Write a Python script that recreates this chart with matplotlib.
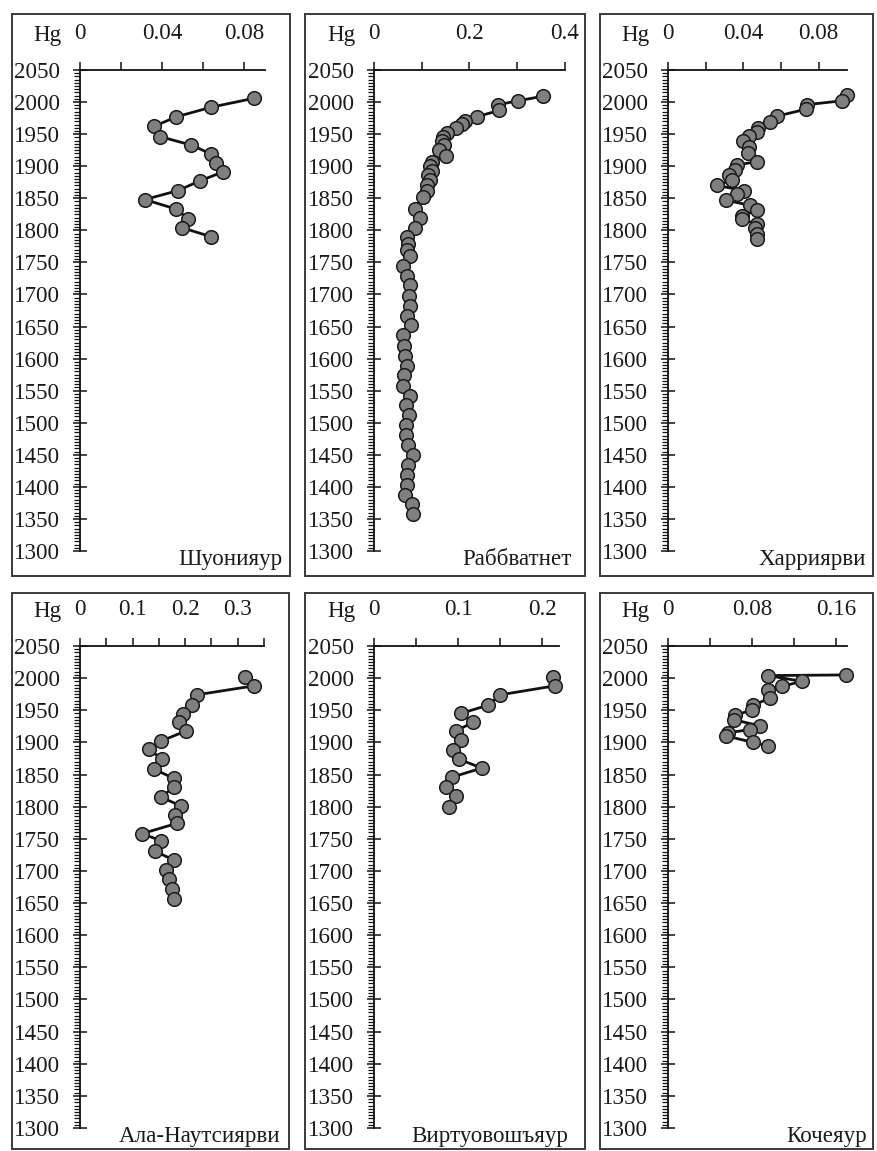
import matplotlib
matplotlib.use('Agg')
import matplotlib.pyplot as plt
from matplotlib.patches import Rectangle
from matplotlib.ticker import MultipleLocator, FuncFormatter

plt.rcParams['font.family'] = ['Liberation Serif', 'DejaVu Serif']

# ---------------------------
# Data (Hg vs year, per lake)
# ---------------------------
lakes = ['Шуонияур', 'Раббватнет', 'Харриярви',
         'Ала-Наутсиярви', 'Виртуовошъяур', 'Кочеяур']

years_shuon = [2006, 1992, 1977, 1962, 1946, 1933, 1919, 1905, 1891, 1877,
               1862, 1848, 1833, 1818, 1804, 1790]
hg_shuon = [0.0848, 0.0638, 0.0469, 0.0359, 0.0391, 0.0541, 0.0638, 0.0663,
            0.0695, 0.0582, 0.0477, 0.0315, 0.0469, 0.0525, 0.0498, 0.0638]

years_rabb = [2009, 2002, 1996, 1987, 1977, 1970, 1966, 1959, 1951, 1946,
              1939, 1933, 1925, 1916, 1907, 1900, 1893, 1886, 1878, 1870,
              1862, 1852, 1834, 1820, 1804, 1790, 1779, 1770, 1760, 1745,
              1729, 1714, 1698, 1682, 1667, 1652, 1637, 1620, 1604, 1589,
              1574, 1558, 1542, 1527, 1512, 1496, 1481, 1465, 1449, 1434,
              1418, 1403, 1387, 1373, 1357]
hg_rabb = [0.353, 0.302, 0.260, 0.262, 0.215, 0.191, 0.184, 0.172, 0.152, 0.145,
           0.142, 0.147, 0.137, 0.151, 0.121, 0.117, 0.121, 0.114, 0.117, 0.112,
           0.110, 0.102, 0.086, 0.096, 0.086, 0.070, 0.072, 0.070, 0.075, 0.061,
           0.070, 0.075, 0.074, 0.075, 0.070, 0.077, 0.061, 0.063, 0.065, 0.070,
           0.063, 0.061, 0.075, 0.068, 0.074, 0.068, 0.067, 0.072, 0.081, 0.072,
           0.070, 0.070, 0.065, 0.079, 0.081]

years_harr = [2011, 2002, 1996, 1989, 1978, 1969, 1960, 1954, 1947, 1940,
              1930, 1920, 1907, 1902, 1894, 1886, 1878, 1870, 1862, 1856,
              1847, 1839, 1831, 1823, 1817, 1810, 1803, 1795, 1787]
hg_harr = [0.0951, 0.0924, 0.0738, 0.0734, 0.0578, 0.0542, 0.0480, 0.0471,
           0.0432, 0.0400, 0.0432, 0.0427, 0.0471, 0.0364, 0.0356, 0.0325,
           0.0338, 0.0258, 0.0404, 0.0364, 0.0308, 0.0436, 0.0471, 0.0391,
           0.0391, 0.0471, 0.0462, 0.0471, 0.0471]

years_ala = [2002, 1988, 1974, 1958, 1944, 1931, 1918, 1902, 1889, 1874,
             1859, 1844, 1830, 1815, 1801, 1787, 1774, 1758, 1747, 1731,
             1717, 1702, 1688, 1672, 1657]
hg_ala = [0.314, 0.331, 0.222, 0.213, 0.195, 0.189, 0.202, 0.154, 0.132, 0.156,
          0.140, 0.178, 0.178, 0.154, 0.192, 0.181, 0.184, 0.118, 0.154, 0.142,
          0.178, 0.164, 0.169, 0.175, 0.178]

years_virt = [2002, 1988, 1974, 1958, 1945, 1931, 1918, 1903, 1888, 1874,
              1860, 1846, 1830, 1816, 1800]
hg_virt = [0.213, 0.215, 0.150, 0.136, 0.103, 0.118, 0.097, 0.103, 0.094, 0.101,
           0.128, 0.093, 0.086, 0.097, 0.089]

years_koch = [2005, 2004, 1995, 1987, 1982, 1969, 1958, 1950, 1943, 1935,
              1926, 1920, 1915, 1910, 1900, 1894]
hg_koch = [0.169, 0.095, 0.127, 0.108, 0.095, 0.097, 0.081, 0.080, 0.064, 0.063,
           0.087, 0.078, 0.057, 0.055, 0.081, 0.095]

series = [(years_shuon, hg_shuon), (years_rabb, hg_rabb), (years_harr, hg_harr),
          (years_ala, hg_ala), (years_virt, hg_virt), (years_koch, hg_koch)]

# x axis: max, labelled step, minor step
x_max = [0.09, 0.4, 0.095, 0.35, 0.22, 0.17]
x_major = [0.04, 0.2, 0.04, 0.1, 0.1, 0.08]
x_minor = [0.02, 0.1, 0.02, 0.05, 0.05, 0.04]

# ---------------------------
# Layout in pixels
# ---------------------------
W, H = 878, 1151
# box (l, t, r, b), axes (x0, x1, y_top, y_bottom)
boxes = [(12, 14, 290, 576), (305, 14, 585, 576), (600, 14, 873, 576),
         (12, 593, 289, 1149), (305, 593, 585, 1149), (600, 593, 873, 1149)]
axes_px = [(80, 265, 70, 551), (374, 565, 70, 551), (668, 847, 70, 551),
           (80, 264, 646, 1128), (374, 559, 646, 1128), (668, 847, 646, 1128)]
name_right = [282, 572, 866, 280, 568, 867]
name_base = [565, 565, 565, 1142, 1142, 1142]

fig = plt.figure(figsize=(W / 100, H / 100), dpi=100)
fig.patch.set_facecolor('white')

TXT = '#1a1a1a'
FS = 16.6

for i in range(6):
    l, t, r, b = boxes[i]
    fig.add_artist(Rectangle((l / W, 1 - b / H), (r - l) / W, (b - t) / H,
                             transform=fig.transFigure, fill=False,
                             ec='#3a3a3a', lw=1.4))

    x0, x1, yt, yb = axes_px[i]
    ax = fig.add_axes([x0 / W, 1 - yb / H, (x1 - x0) / W, (yb - yt) / H])
    ax.patch.set_alpha(0)
    yrs, hg = series[i]
    ax.plot(hg, yrs, '-', color='#111111', lw=2.0, marker='o', ms=9.8,
            mfc='#7f7f7f', mec='#1a1a1a', mew=1.1, clip_on=False, zorder=3)

    ax.set_xlim(0, x_max[i])
    ax.set_ylim(1300, 2050)
    for s in ['right', 'bottom']:
        ax.spines[s].set_visible(False)
    for s in ['top', 'left']:
        ax.spines[s].set_linewidth(1.3)
        ax.spines[s].set_color('#111111')

    ax.xaxis.tick_top()
    ax.xaxis.set_major_locator(MultipleLocator(x_major[i]))
    ax.xaxis.set_minor_locator(MultipleLocator(x_minor[i]))
    ax.xaxis.set_major_formatter(FuncFormatter(lambda v, p: f'{v:g}'))
    ax.tick_params(axis='x', which='both', direction='out', length=5.5,
                   width=1.1, color='#111111')
    ax.tick_params(axis='x', which='major', pad=13, labelsize=FS,
                   labelcolor=TXT)

    ax.yaxis.set_major_locator(MultipleLocator(50))
    ax.yaxis.set_minor_locator(MultipleLocator(5))
    ax.tick_params(axis='y', which='major', direction='inout', length=10,
                   width=1.1, pad=9.5, labelsize=FS, labelcolor=TXT,
                   color='#111111')
    ax.tick_params(axis='y', which='minor', direction='out', length=4.5,
                   width=0.9, color='#111111')

    ax.annotate('Hg', xy=(0, 1), xycoords='axes fraction',
                xytext=(-18, 24), textcoords='offset pixels',
                ha='right', va='bottom', fontsize=FS, color=TXT)

    fig.text(name_right[i] / W, 1 - name_base[i] / H, lakes[i],
             ha='right', va='baseline', fontsize=FS, color=TXT)

fig.savefig('out.png', dpi=100, facecolor='white')
